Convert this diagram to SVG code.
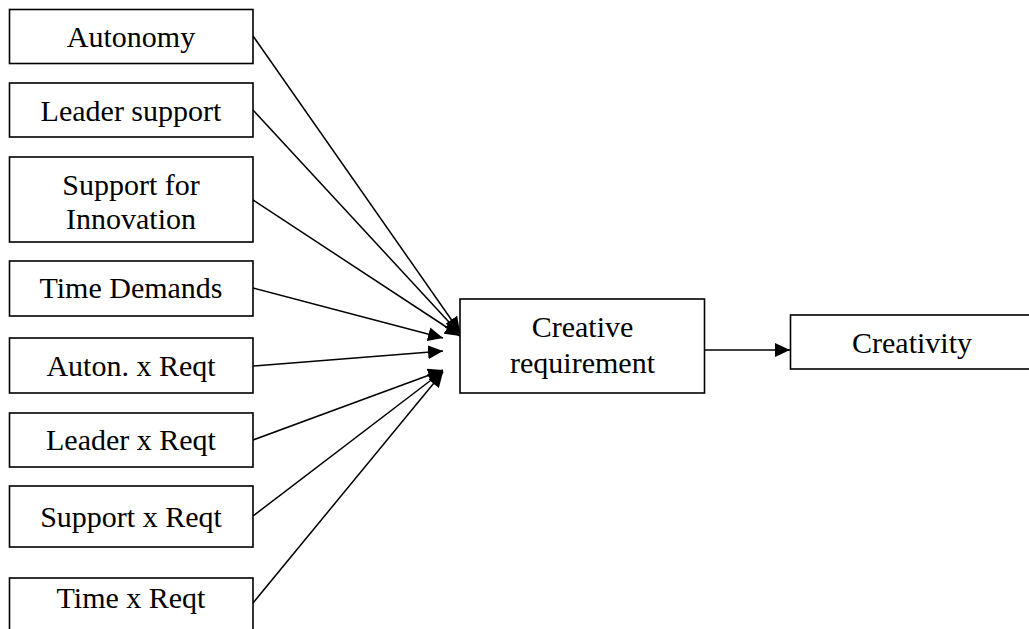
<svg xmlns="http://www.w3.org/2000/svg" width="1029" height="629" viewBox="0 0 1029 629">
<style>
.box{fill:#fff;stroke:#000;stroke-width:1.6}
.t{font-family:"Liberation Serif","Times New Roman",serif;font-size:30px;fill:#000;text-anchor:middle}
.c{stroke:#000;stroke-width:1.5;fill:none;marker-end:url(#ah)}
</style>
<defs>
<marker id="ah" markerUnits="userSpaceOnUse" markerWidth="16" markerHeight="14" refX="15" refY="7" orient="auto">
<path d="M0,0 L15,7 L0,14 z" fill="#000"/>
</marker>
</defs>
<rect width="1029" height="629" fill="#fff"/>
<g id="connectors">
<line class="c" x1="253" y1="36" x2="460" y2="332"/>
<line class="c" x1="253" y1="110" x2="460" y2="334"/>
<line class="c" x1="253" y1="200" x2="460" y2="336"/>
<line class="c" x1="253" y1="288" x2="443" y2="338"/>
<line class="c" x1="253" y1="366" x2="443" y2="351"/>
<line class="c" x1="253" y1="440" x2="443" y2="370"/>
<line class="c" x1="253" y1="516" x2="443" y2="371"/>
<line class="c" x1="253" y1="603" x2="443" y2="372"/>
<line class="c" x1="704" y1="350" x2="790" y2="350"/>
</g>
<g id="autonomy"><rect class="box" x="9.5" y="9.5" width="243.5" height="54"/><text class="t" x="131" y="47">Autonomy</text></g>
<g id="leader-support"><rect class="box" x="9.5" y="83" width="243.5" height="54"/><text class="t" x="131" y="121">Leader support</text></g>
<g id="support-innovation"><rect class="box" x="9.5" y="157" width="243.5" height="85"/><text class="t" x="131" y="195">Support for</text><text class="t" x="131" y="229">Innovation</text></g>
<g id="time-demands"><rect class="box" x="9.5" y="261" width="243.5" height="55"/><text class="t" x="131" y="298">Time Demands</text></g>
<g id="auton-reqt"><rect class="box" x="9.5" y="338" width="243.5" height="55"/><text class="t" x="131" y="376">Auton. x Reqt</text></g>
<g id="leader-reqt"><rect class="box" x="9.5" y="413" width="243.5" height="54"/><text class="t" x="131" y="450">Leader x Reqt</text></g>
<g id="support-reqt"><rect class="box" x="9.5" y="486" width="243.5" height="61"/><text class="t" x="131" y="527">Support x Reqt</text></g>
<g id="time-reqt"><rect class="box" x="9.5" y="578" width="243.5" height="70"/><text class="t" x="131" y="608">Time x Reqt</text></g>
<g id="creative-requirement"><rect class="box" x="460" y="299" width="244.5" height="94"/><text class="t" x="582.5" y="337">Creative</text><text class="t" x="582.5" y="373">requirement</text></g>
<g id="creativity"><rect class="box" x="790.5" y="315" width="260" height="54"/><text class="t" x="912" y="353">Creativity</text></g>
</svg>
